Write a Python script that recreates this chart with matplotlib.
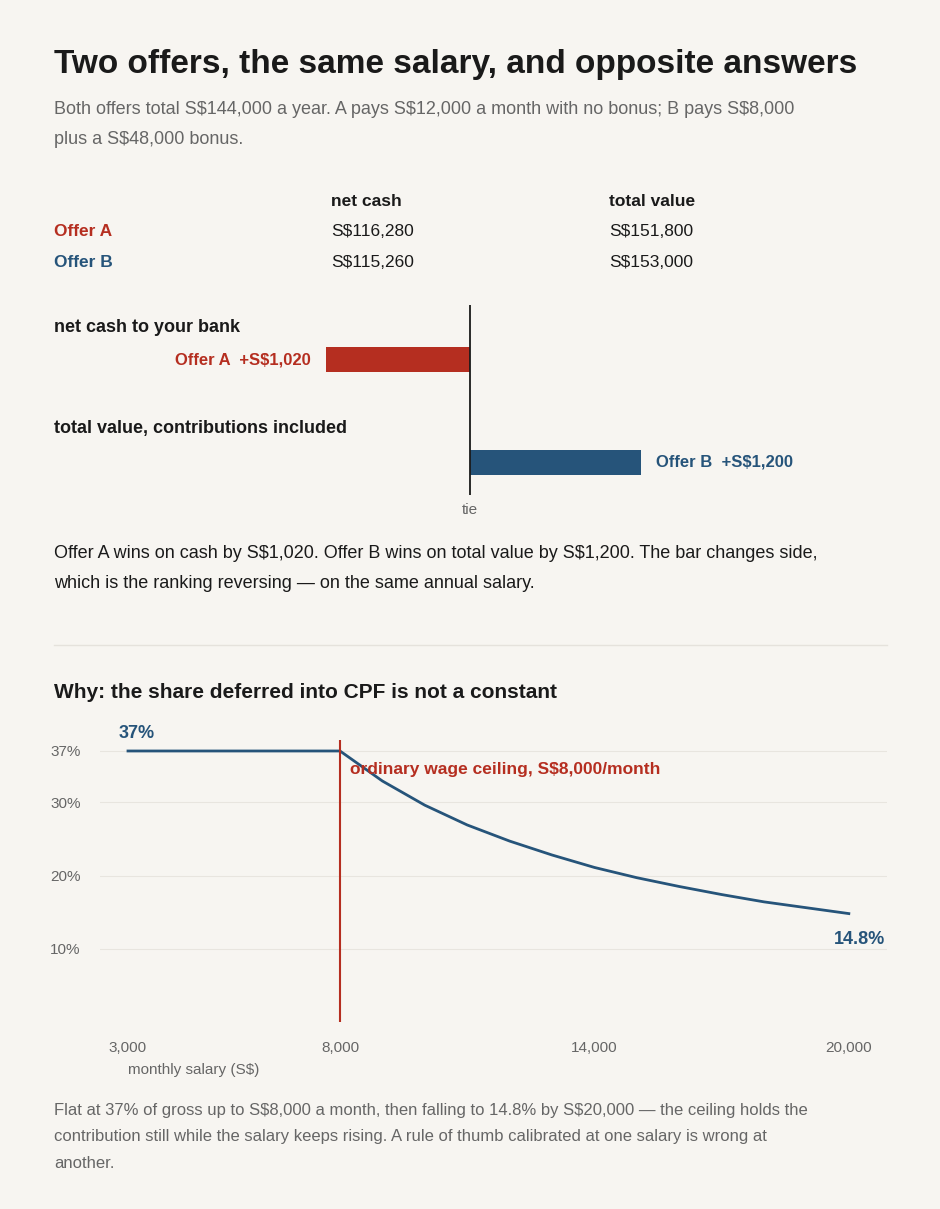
import matplotlib.pyplot as plt

plt.rcParams['text.parse_math'] = False

W, H = 940, 1209
BG = '#f7f5f1'
RED = '#b52e20'
BLUE = '#26547a'
INK = '#1a1a1a'
GREY = '#666666'

# data
offers = ['Offer A', 'Offer B']
net_cash = ['S$116,280', 'S$115,260']
total_value = ['S$151,800', 'S$153,000']
bar_rows = ['net cash to your bank', 'total value, contributions included']
bar_gaps = [-1020, 1200]
bar_labels = ['Offer A  +S$1,020', 'Offer B  +S$1,200']

salary = [3000, 8000, 9000, 10000, 11000, 12000, 13000, 14000, 15000,
          16000, 17000, 18000, 19000, 20000]
cpf_share = [37, 37, 32.9, 29.6, 26.9, 24.7, 22.8, 21.1, 19.7,
             18.5, 17.4, 16.4, 15.6, 14.8]
salary_ticks = [3000, 8000, 14000, 20000]
share_ticks = [10, 20, 30, 37]

fig = plt.figure(figsize=(W / 100, H / 100), dpi=100, facecolor=BG)
plt.rcParams['font.family'] = ['Liberation Sans', 'DejaVu Sans']


def txt(px, py, s, **kw):
    kw.setdefault('va', 'center')
    fig.text(px / W, 1 - py / H, s, **kw)


def box(l, t, r, b):
    return [l / W, 1 - b / H, (r - l) / W, (b - t) / H]


txt(54, 65, 'Two offers, the same salary, and opposite answers', fontsize=24,
    weight='bold', color=INK)
txt(54, 110, 'Both offers total S$144,000 a year. A pays S$12,000 a month with no bonus; B pays S$8,000',
    fontsize=13, color=GREY)
txt(54, 140, 'plus a S$48,000 bonus.', fontsize=13, color=GREY)

txt(331, 202, 'net cash', fontsize=12.5, weight='bold', color=INK)
txt(609, 202, 'total value', fontsize=12.5, weight='bold', color=INK)
for i, (o, n, t) in enumerate(zip(offers, net_cash, total_value)):
    y = 231 + 32 * i
    txt(54, y, o, fontsize=12.5, weight='bold', color=[RED, BLUE][i])
    txt(331, y, n, fontsize=12.5, color=INK)
    txt(609, y, t, fontsize=12.5, color=INK)

# bar chart
ax = fig.add_axes(box(54, 305, 887, 495))
ax.set_facecolor(BG)
ax.set_xlim(-2940, 2940)
ax.set_ylim(190, 0)
ax.axis('off')
ypos = [55, 157]
colors = [RED, BLUE]
ax.barh(ypos, bar_gaps, height=25, color=colors)
ax.axvline(0, color=INK, lw=1.3)
for y, v, lab, c in zip(ypos, bar_gaps, bar_labels, colors):
    if v < 0:
        ax.text(v - 110, y, lab, ha='right', va='center', fontsize=12,
                weight='bold', color=c)
    else:
        ax.text(v + 110, y, lab, ha='left', va='center', fontsize=12,
                weight='bold', color=c)
for i, r in enumerate(bar_rows):
    txt(54, 327 + 102 * i, r, fontsize=13, weight='bold', color=INK)
txt(470, 510, 'tie', fontsize=11, color=GREY, ha='center')

txt(54, 554, 'Offer A wins on cash by S$1,020. Offer B wins on total value by S$1,200. The bar changes side,',
    fontsize=13, color=INK)
txt(54, 584, 'which is the ranking reversing \u2014 on the same annual salary.',
    fontsize=13, color=INK)

fig.add_artist(plt.Line2D([54 / W, 887 / W], [1 - 645 / H] * 2, color='#e5e2dc', lw=1))

txt(54, 692, 'Why: the share deferred into CPF is not a constant', fontsize=15,
    weight='bold', color=INK)

# line chart
lx = fig.add_axes(box(100, 740, 887, 1022))
lx.set_facecolor(BG)
lx.set_xlim(2340, 20900)
lx.set_ylim(0, 38.5)
for s in lx.spines.values():
    s.set_visible(False)
lx.set_yticks(share_ticks)
lx.set_yticklabels([f'{v}%' for v in share_ticks], fontsize=11, color=GREY)
lx.tick_params(axis='y', length=0, pad=14)
lx.set_xticks(salary_ticks)
lx.set_xticklabels([f'{v:,}' for v in salary_ticks], fontsize=11, color=GREY)
lx.tick_params(axis='x', length=0, pad=14)
lx.grid(axis='y', color='#e8e5df', lw=0.8)
lx.plot(salary, cpf_share, color=BLUE, lw=2)
lx.axvline(8000, color=RED, lw=1.5)
lx.text(8230, 38.5 - 29 / 7.3, 'ordinary wage ceiling, S$8,000/month',
        fontsize=12.5, weight='bold', color=RED, va='center')
lx.text(salary[0] - 220, cpf_share[0] + 2.4, f'{cpf_share[0]:g}%', fontsize=13,
        weight='bold', color=BLUE, va='center')
lx.text(20850, cpf_share[-1] - 3.5, f'{cpf_share[-1]:g}%', fontsize=13,
        weight='bold', color=BLUE, va='center', ha='right')
txt(128, 1070, 'monthly salary (S$)', fontsize=11, color=GREY)

foot = ['Flat at 37% of gross up to S$8,000 a month, then falling to 14.8% by S$20,000 \u2014 the ceiling holds the',
        'contribution still while the salary keeps rising. A rule of thumb calibrated at one salary is wrong at',
        'another.']
for i, line in enumerate(foot):
    txt(54, 1110 + 27 * i, line, fontsize=12, color=GREY)

fig.savefig('out.png', dpi=100, facecolor=BG)
